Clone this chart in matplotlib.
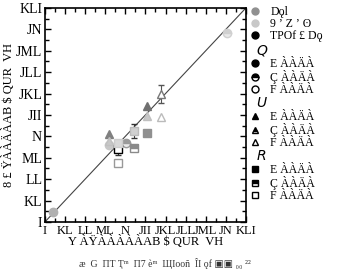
import matplotlib
matplotlib.use("Agg")
import matplotlib.pyplot as plt
from matplotlib.lines import Line2D

plt.rcParams['font.family'] = ['Liberation Serif', 'DejaVu Serif', 'DejaVu Sans']

# tick labels as they appear in the reference (garbled font)
tick_labels = ["I", "KL", "LL", "ML", "N", "JII", "JKL", "JLL", "JML", "JN", "KLI"]
x_label = "Y ÀŸÀÀÀÀÀAB $ QUR  VH"
y_label = "8 £ ŸÀÀÄÀAB $ QUR  VH"
caption = "æ  G  ΠΤ Ҭᵐ  Π7 ѐᵐ  ЩΙοοñ  ÎΙ ǫf ▣▣ ₀₀ ²²"

# circles
circ_x = [0.40, 3.18, 4.03, 9.04]
circ_y = [0.48, 3.60, 3.68, 8.82]
circ_fc = ["#b0b0b0", "#c8c8c8", "#9a9a9a", "#d0d0d0"]
circ_fill = ["full", "full", "top", "top"]

# triangles
tri_x = [3.18, 3.18, 5.10, 5.10, 5.77, 5.77]
tri_y = [4.10, 3.80, 5.42, 4.95, 5.97, 4.92]
tri_fc = ["#808080", "#c8c8c8", "#707070", "#c8c8c8", "white", "white"]
tri_ec = ["#808080", "#c0c0c0", "#707070", "#c0c0c0", "#777777", "#bbbbbb"]
tri_err = [0, 0, 0, 0, 0.43, 0]

# squares
sq_x = [3.65, 3.65, 3.65, 4.44, 4.44, 5.10]
sq_y = [3.40, 2.77, 3.70, 4.25, 3.44, 4.14]
sq_fc = ["white", "white", "#d8d8d8", "#d0d0d0", "#8a8a8a", "#909090"]
sq_ec = ["black", "#999999", "#cccccc", "#bbbbbb", "#8a8a8a", "#909090"]
sq_fill = ["full", "full", "full", "full", "top", "full"]
sq_err = [0.25, 0, 0, 0.35, 0, 0]

legend_top = [("Dǫl", "o", "#909090"),
              ("9 ʼ Z ʼ ʘ", "o", "#c8c8c8"),
              ("TPOf £ Dǫ", "o", "black")]
legend_groups = ["Q", "U", "R"]
legend_sub = ["E ÀÀÄÀ", "Ç ÀÀÄÀ", "F ÀÀÄÀ"]


fig = plt.figure(figsize=(3.43, 2.74), dpi=100)
ax = fig.add_axes([0.131, 0.19, 0.586, 0.781])

ax.plot([0, 10], [0, 10], color="#444444", lw=0.8, zorder=1)

for x, y, fc, fs in zip(circ_x, circ_y, circ_fc, circ_fill):
    ax.plot(x, y, "o", ms=6, mfc=fc, mec=fc, fillstyle=fs, markerfacecoloralt="#e8e8e8", zorder=3)

for x, y, fc, ec, e in zip(tri_x, tri_y, tri_fc, tri_ec, tri_err):
    if e:
        ax.errorbar(x, y, yerr=e, fmt="none", ecolor="#555555", elinewidth=0.8, capsize=2.5, zorder=2)
    ax.plot(x, y, "^", ms=6, mfc=fc, mec=ec, zorder=3)

for x, y, fc, ec, fs, e in zip(sq_x, sq_y, sq_fc, sq_ec, sq_fill, sq_err):
    if e:
        ax.errorbar(x, y, yerr=e, fmt="none", ecolor="#333333", elinewidth=0.8, capsize=2.5, zorder=2)
    ax.plot(x, y, "s", ms=5.5, mfc=fc, mec=ec, fillstyle=fs, markerfacecoloralt="white", zorder=3)

ax.set_xlim(0, 10)
ax.set_ylim(0, 10)
ax.set_xticks(range(11))
ax.set_yticks(range(11))
ax.set_xticks([i + 0.5 for i in range(10)], minor=True)
ax.set_yticks([i + 0.5 for i in range(10)], minor=True)
ax.set_xticklabels(tick_labels, fontsize=9)
ax.set_yticklabels(tick_labels, fontsize=10)
ax.tick_params(which="both", direction="in", top=True, right=True, width=1.0)
ax.tick_params(which="major", length=4, pad=2)
ax.tick_params(which="minor", length=3)
for s in ax.spines.values():
    s.set_linewidth(1.2)

ax.set_xlabel(x_label, fontsize=9, labelpad=-1)
ax.set_ylabel(y_label, fontsize=9, labelpad=1)

fig.text(0.48, 0.04, caption, fontsize=7, ha="center", va="center", color="#333333")

# legend
handles = []
labels = []
for lab, m, c in legend_top:
    handles.append(Line2D([], [], ls="none", marker=m, ms=5, mfc=c, mec=c))
    labels.append(lab)
shape = ["o", "^", "s"]
for g, m in zip(legend_groups, shape):
    handles.append(Line2D([], [], ls="none"))
    labels.append("$\\it{%s}$" % g)
    for sub, fs in zip(legend_sub, ["full", "top", "none"]):
        handles.append(Line2D([], [], ls="none", marker=m, ms=5, mfc="black", mec="black",
                              fillstyle=fs, markerfacecoloralt="white"))
        labels.append(sub)

leg = ax.legend(handles, labels, loc="upper left", bbox_to_anchor=(1.015, 1.01), frameon=False,
                fontsize=8.5, handlelength=1.0, handletextpad=0.8, labelspacing=0.02,
                borderaxespad=0.0, borderpad=0.0)
for t, lab in zip(leg.get_texts(), labels):
    if lab.startswith("$"):
        t.set_fontsize(10)
        t.set_x(-14)

fig.savefig("out.png", dpi=100)
